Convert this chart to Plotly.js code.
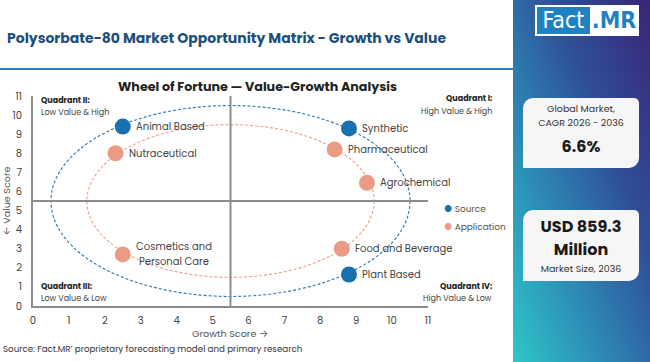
<!DOCTYPE html>
<html>
<head>
<meta charset="utf-8">
<script src="https://cdn.plot.ly/plotly-3.0.1.min.js"></script>
<style>
  html, body { margin: 0; padding: 0; background: #ffffff; }
  #wrap { position: relative; width: 650px; height: 362px; overflow: hidden; background: #ffffff; font-family: "Poppins", Inter, "Open Sans", sans-serif; }
  #chart { position: absolute; left: 0; top: 0; width: 650px; height: 362px; }
  #title { position: absolute; left: 7px; top: 28px; font-size: 14px; font-weight: 700; color: #1d4f7c; white-space: nowrap; }
  #rule { position: absolute; left: 0; top: 68px; width: 513px; height: 2px; background: #2f7db3; }
  #source { position: absolute; left: 3px; top: 343px; font-size: 8.7px; color: #333; white-space: nowrap; }
  #panel { position: absolute; left: 513px; top: 0; width: 137px; height: 362px;
    background: linear-gradient(to top right, #2fc6c8 0%, #2d86b5 35%, #2f4f97 65%, #3a2578 100%); z-index: 5; }
  #logo { position: absolute; left: 22px; top: 5px; width: 104px; height: 31px; background: #ffffff; }
  #logo .f { position: absolute; left: 2px; top: 2px; width: 53px; height: 27px; background: #1f80c3; color: #fff; font-family: "DejaVu Sans Condensed", "Liberation Sans Narrow", sans-serif; font-size: 23px; line-height: 27px; text-align: center; }
  #logo .m { position: absolute; left: 56px; top: 2px; width: 46px; height: 27px; color: #1f80c3; font-family: "DejaVu Sans Condensed", "Liberation Sans Narrow", sans-serif; font-size: 23px; font-weight: 700; line-height: 27px; text-align: center; }
  .card { position: absolute; left: 10px; width: 116px; background: #f6f6f6; border-radius: 10px 5px 10px 0; text-align: center; color: #222; }
  #card1 { top: 98px; height: 70px; }
  #card2 { top: 210px; height: 71px; }
  .small { font-size: 9.5px; color: #333; line-height: 14px; }
  .big { font-size: 16px; font-weight: 700; color: #1a1a1a; line-height: 23px; }
</style>
</head>
<body>
<div id="wrap">
  <div id="chart"></div>
  <div id="title">Polysorbate-80 Market Opportunity Matrix - Growth vs Value</div>
  <div id="rule"></div>
  <div id="source">Source: Fact.MR’ proprietary forecasting model and primary research</div>
  <div id="panel">
    <div id="logo"><div class="f">Fact</div><div class="m">.MR</div></div>
    <div class="card" id="card1">
      <div class="small" style="padding-top:4px">Global Market,<br>CAGR 2026 - 2036</div>
      <div class="big" style="margin-top:5px">6.6%</div>
    </div>
    <div class="card" id="card2">
      <div class="big" style="padding-top:5px">USD 859.3<br>Million</div>
      <div class="small" style="margin-top:1px">Market Size, 2036</div>
    </div>
  </div>
</div>
<script>
// ---- data ----
const sourceNames  = ["Animal Based", "Synthetic", "Plant Based"];
const sourceGrowth = [2.5, 8.8, 8.8];
const sourceValue  = [9.4, 9.3, 1.65];

const appNames  = ["Nutraceutical", "Pharmaceutical", "Agrochemical", "Food and Beverage", "Cosmetics and<br>Personal Care"];
const appGrowth = [2.3, 8.4, 9.3, 8.6, 2.5];
const appValue  = [8.0, 8.2, 6.45, 3.0, 2.7];

const seriesNames = ["Source", "Application"];
const axisTicks = [0,1,2,3,4,5,6,7,8,9,10,11];

// ---- styles ----
const BLUE = "#1a6fae", ORANGE = "#ea9b85";
const FONT = "Poppins, Inter, 'Open Sans', sans-serif";
const MID = 5.5, RING_OUTER = 5, RING_INNER = 4;

const traces = [
  { type: "scatter", mode: "markers", name: seriesNames[0], x: sourceGrowth, y: sourceValue, text: sourceNames,
    marker: { size: 16, color: BLUE }, showlegend: false, hoverinfo: "text", cliponaxis: false },
  { type: "scatter", mode: "markers", name: seriesNames[1], x: appGrowth, y: appValue, text: appNames,
    marker: { size: 16, color: ORANGE }, showlegend: false, hoverinfo: "text", cliponaxis: false }
];

// one annotation per label line, lines centred within a common box
const labelAnn = (names, xs, ys) => names.flatMap((n, i) => {
  const lines = n.split("<br>");
  const multi = lines.length > 1;
  return lines.map((ln, k) => ({
    x: xs[i], y: ys[i], xref: "x", yref: "y", text: ln, showarrow: false,
    xanchor: "left", yanchor: "middle", xshift: 11, align: "center",
    width: multi ? 76 : undefined,
    yshift: (lines.length - 1) * 7.5 - k * 15,
    font: { family: FONT, size: 10, color: "#444" }
  }));
});

const P = (px) => (px - 33) / 395;     // paper x from pixel
const Q = (py) => (306 - py) / 210;    // paper y from pixel

const quad = (xp, yp, anchor, head, sub) => ([
  { x: xp, y: yp, xref: "paper", yref: "paper", text: "<b>" + head + "</b>", showarrow: false, xanchor: anchor, yanchor: "middle",
    font: { family: FONT, size: 8, color: "#222" } },
  { x: xp, y: yp - 12 / 210, xref: "paper", yref: "paper", text: sub, showarrow: false, xanchor: anchor, yanchor: "middle",
    font: { family: FONT, size: 8, color: "#444" } }
]);

const annotations = [
  ...labelAnn(sourceNames, sourceGrowth, sourceValue),
  ...labelAnn(appNames, appGrowth, appValue),
  ...quad(P(39), Q(100), "left", "Quadrant II:", "Low Value &amp; High"),
  ...quad(P(494), Q(99), "right", "Quadrant I:", "High Value &amp; High"),
  ...quad(P(39), Q(286), "left", "Quadrant III:", "Low Value &amp; Low"),
  ...quad(P(494), Q(286), "right", "Quadrant IV:", "High Value &amp; Low"),
  { x: P(257), y: Q(87), xref: "paper", yref: "paper", text: "<b>Wheel of Fortune — Value-Growth Analysis</b>",
    showarrow: false, xanchor: "center", yanchor: "middle", font: { family: FONT, size: 12.7, color: "#222" } },
  { x: P(230), y: Q(333), xref: "paper", yref: "paper", text: "Growth Score →", showarrow: false,
    xanchor: "center", yanchor: "middle", font: { family: FONT, size: 9.6, color: "#555" } },
  { x: P(442), y: Q(209), xref: "paper", yref: "paper", xanchor: "left", yanchor: "middle", showarrow: false,
    text: "<span style='color:" + BLUE + "'>●</span> " + seriesNames[0], font: { family: FONT, size: 9, color: "#555" } },
  { x: P(442), y: Q(227), xref: "paper", yref: "paper", xanchor: "left", yanchor: "middle", showarrow: false,
    text: "<span style='color:" + ORANGE + "'>●</span> " + seriesNames[1], font: { family: FONT, size: 9, color: "#555" } }
];

const shapes = [
  { type: "circle", xref: "x", yref: "y", x0: MID - RING_OUTER, x1: MID + RING_OUTER, y0: MID - RING_OUTER, y1: MID + RING_OUTER,
    line: { color: "#2b78b4", width: 1.1, dash: "3px,2px" }, layer: "below" },
  { type: "circle", xref: "x", yref: "y", x0: MID - RING_INNER, x1: MID + RING_INNER, y0: MID - RING_INNER, y1: MID + RING_INNER,
    line: { color: "#ee9f8a", width: 1.1, dash: "3px,2px" }, layer: "below" },
  { type: "line", xref: "x", yref: "y", x0: MID, x1: MID, y0: 0, y1: 11, line: { color: "#8c8c8c", width: 2 } },
  { type: "line", xref: "x", yref: "y", x0: 0, x1: 11, y0: MID, y1: MID, line: { color: "#8c8c8c", width: 2 } }
];

const axisCommon = {
  range: [0, 11], tickvals: axisTicks, ticktext: axisTicks.map(String),
  showgrid: false, zeroline: false, showline: true, linecolor: "#8c8c8c", linewidth: 2,
  ticks: "", tickfont: { family: FONT, size: 10, color: "#444" }, fixedrange: true
};

const layout = {
  width: 650, height: 362,
  margin: { l: 33, r: 222, t: 96, b: 56, pad: 0 },
  paper_bgcolor: "rgba(0,0,0,0)", plot_bgcolor: "rgba(0,0,0,0)",
  showlegend: false,
  xaxis: Object.assign({}, axisCommon, { ticklabelstandoff: 4 }),
  yaxis: Object.assign({}, axisCommon, { ticklabelstandoff: 7,
    title: { text: "← Value Score", standoff: 4, font: { family: FONT, size: 9.6, color: "#555" } } }),
  shapes: shapes,
  annotations: annotations,
  font: { family: FONT }
};

Plotly.newPlot("chart", traces, layout, { displayModeBar: false, staticPlot: true });
</script>
</body>
</html>
